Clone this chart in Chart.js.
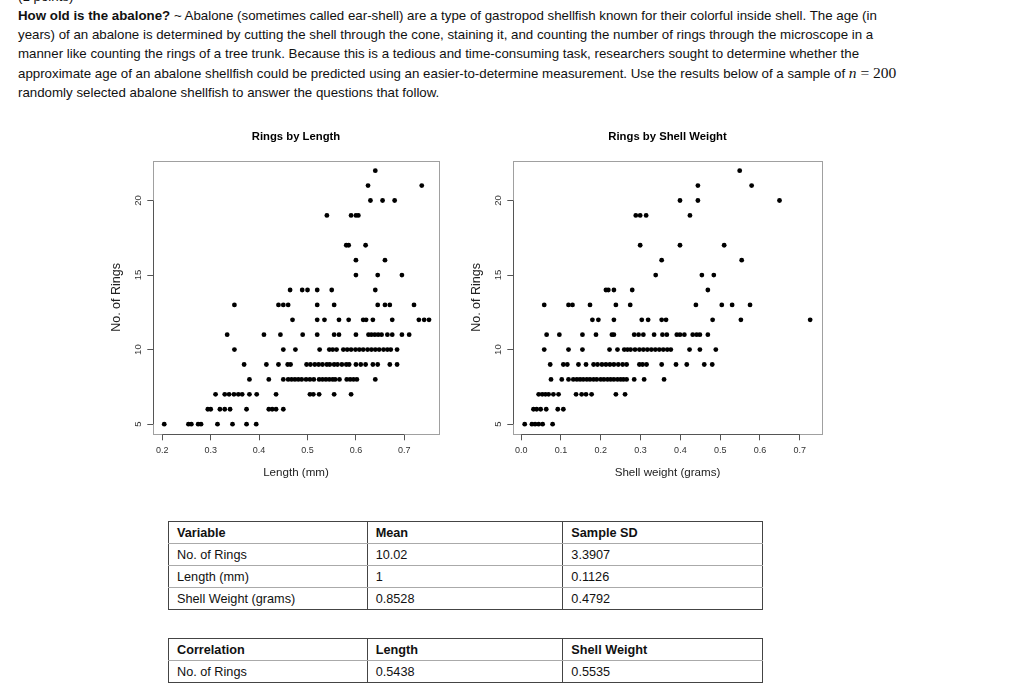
<!DOCTYPE html>
<html>
<head>
<meta charset="utf-8">
<script src="https://cdn.jsdelivr.net/npm/chart.js@4"></script>
<style>
  body { margin: 0; width: 1024px; height: 694px; overflow: hidden; background: #fff; position: relative;
         font-family: "Liberation Sans", Arial, sans-serif; color: #111; }
  #intro { position: absolute; left: 18px; top: -13.5px; font-size: 13.3px; line-height: 19px; white-space: nowrap; }
  #intro .math { font-family: "Liberation Serif", serif; font-size: 15.5px; }
  canvas { position: absolute; }
  table { position: absolute; border-collapse: collapse; font-size: 12.7px; }
  td { border-left: 1px solid #444; border-right: 1px solid #444; border-top: 1px solid #aaa; border-bottom: 1px solid #aaa;
       height: 21px; padding: 0 0 0 8px; vertical-align: middle; }
  tr:first-child td { border-top: 1px solid #444; font-weight: bold; }
  tr:last-child td { border-bottom: 1px solid #444; }
</style>
</head>
<body>

<div id="intro">
  <div>(1 points)</div>
  <div><b>How old is the abalone?</b> ~ Abalone (sometimes called ear-shell) are a type of gastropod shellfish known for their colorful inside shell. The age (in</div>
  <div>years) of an abalone is determined by cutting the shell through the cone, staining it, and counting the number of rings through the microscope in a</div>
  <div>manner like counting the rings of a tree trunk. Because this is a tedious and time-consuming task, researchers sought to determine whether the</div>
  <div>approximate age of an abalone shellfish could be predicted using an easier-to-determine measurement. Use the results below of a sample of <span class="math"><i>n</i> = 200</span></div>
  <div>randomly selected abalone shellfish to answer the questions that follow.</div>
</div>

<canvas id="lengthChart" width="360" height="372" style="left:100px; top:118px;"></canvas>
<canvas id="weightChart" width="380" height="372" style="left:460px; top:118px;"></canvas>

<table style="left:168px; top:521px; width:595px;">
  <colgroup><col style="width:199px"><col style="width:196px"><col style="width:200px"></colgroup>
  <tr><td>Variable</td><td>Mean</td><td>Sample SD</td></tr>
  <tr><td>No. of Rings</td><td>10.02</td><td>3.3907</td></tr>
  <tr><td>Length (mm)</td><td>1</td><td>0.1126</td></tr>
  <tr><td>Shell Weight (grams)</td><td>0.8528</td><td>0.4792</td></tr>
</table>

<table style="left:168px; top:638px; width:595px;">
  <colgroup><col style="width:199px"><col style="width:196px"><col style="width:200px"></colgroup>
  <tr><td>Correlation</td><td>Length</td><td>Shell Weight</td></tr>
  <tr><td>No. of Rings</td><td>0.5438</td><td>0.5535</td></tr>
</table>

<script>
// ===== DATA =====

const ringValues = [5, 6, 7, 8, 9, 10, 11, 12, 13, 14, 15, 16, 17, 18, 19, 20, 21, 22];

// length (mm) of each shell, one list per ring count
const lengthByRing = [
    [0.204, 0.254, 0.26, 0.274, 0.28, 0.314, 0.345, 0.374, 0.394],
    [0.294, 0.30, 0.319, 0.329, 0.34, 0.374, 0.42, 0.427, 0.435, 0.45],
    [0.31, 0.329, 0.338, 0.348, 0.357, 0.365, 0.38, 0.395, 0.435, 0.505, 0.512, 0.524, 0.555, 0.59],
    [0.38, 0.42, 0.45, 0.46, 0.467, 0.474, 0.481, 0.488, 0.497, 0.505, 0.513, 0.524, 0.531, 0.538, 0.545, 0.552, 0.557, 0.566, 0.581, 0.588, 0.595, 0.602, 0.64],
    [0.369, 0.415, 0.44, 0.459, 0.465, 0.498, 0.506, 0.515, 0.523, 0.531, 0.54, 0.546, 0.555, 0.562, 0.571, 0.58, 0.586, 0.6, 0.61, 0.62, 0.635, 0.645, 0.67, 0.685],
    [0.349, 0.45, 0.475, 0.525, 0.545, 0.552, 0.56, 0.574, 0.582, 0.59, 0.599, 0.607, 0.615, 0.624, 0.632, 0.64, 0.648, 0.657, 0.665, 0.672, 0.685],
    [0.334, 0.41, 0.444, 0.49, 0.52, 0.555, 0.565, 0.6, 0.626, 0.632, 0.639, 0.646, 0.653, 0.665, 0.675, 0.695, 0.71],
    [0.469, 0.52, 0.535, 0.565, 0.585, 0.615, 0.621, 0.635, 0.675, 0.73, 0.741, 0.751],
    [0.349, 0.44, 0.45, 0.46, 0.52, 0.555, 0.645, 0.66, 0.67, 0.72],
    [0.464, 0.489, 0.5, 0.52, 0.55, 0.64],
    [0.6, 0.645, 0.695],
    [0.6, 0.66],
    [0.58, 0.585, 0.62],
    [],
    [0.54, 0.59, 0.6, 0.605],
    [0.63, 0.655, 0.68],
    [0.625, 0.736],
    [0.64]
];

// shell weight (grams), one list per ring count
const weightByRing = [
    [0.009, 0.027, 0.035, 0.044, 0.054, 0.079],
    [0.031, 0.039, 0.049, 0.063, 0.092, 0.106],
    [0.044, 0.053, 0.061, 0.069, 0.081, 0.094, 0.138, 0.152, 0.163, 0.177, 0.238, 0.261],
    [0.075, 0.102, 0.119, 0.131, 0.14, 0.148, 0.156, 0.165, 0.173, 0.182, 0.19, 0.2, 0.208, 0.217, 0.225, 0.233, 0.242, 0.25, 0.257, 0.265, 0.284, 0.309, 0.359],
    [0.073, 0.106, 0.116, 0.144, 0.163, 0.182, 0.192, 0.203, 0.213, 0.223, 0.233, 0.244, 0.255, 0.265, 0.297, 0.305, 0.315, 0.353, 0.389, 0.416, 0.46, 0.48],
    [0.058, 0.119, 0.154, 0.222, 0.242, 0.259, 0.267, 0.275, 0.286, 0.297, 0.307, 0.317, 0.327, 0.337, 0.347, 0.357, 0.367, 0.376, 0.423, 0.449, 0.489],
    [0.064, 0.096, 0.154, 0.188, 0.228, 0.233, 0.284, 0.295, 0.307, 0.334, 0.355, 0.366, 0.391, 0.399, 0.41, 0.431, 0.441, 0.449, 0.469],
    [0.179, 0.194, 0.233, 0.303, 0.319, 0.353, 0.364, 0.481, 0.552, 0.726],
    [0.058, 0.119, 0.129, 0.173, 0.238, 0.274, 0.439, 0.504, 0.53, 0.575],
    [0.213, 0.219, 0.233, 0.279, 0.469],
    [0.338, 0.454, 0.484],
    [0.353, 0.554],
    [0.299, 0.399, 0.51],
    [],
    [0.288, 0.299, 0.314, 0.424],
    [0.399, 0.444, 0.649],
    [0.444, 0.579],
    [0.549]
];

const ringTicks = [5, 10, 15, 20];
const lengthTicks = [0.2, 0.3, 0.4, 0.5, 0.6, 0.7];
const weightTicks = [0.0, 0.1, 0.2, 0.3, 0.4, 0.5, 0.6, 0.7];

// ===== HELPERS =====

const FONT = '"Liberation Sans", Arial, sans-serif';

function toPoints(byRing) {
    const pts = [];
    ringValues.forEach((r, i) => {
        byRing[i].forEach(x => pts.push({ x: x, y: r }));
    });
    return pts;
}

// R-style frame: light box round the plot area, darker axis line between first and last tick
const rFrame = {
    id: 'rFrame',
    afterDraw(chart) {
        const { ctx, chartArea: a } = chart;
        const x = chart.scales.x, y = chart.scales.y;
        const l = Math.round(a.left) + 0.5, r = Math.round(a.right) + 0.5;
        const t = Math.round(a.top) + 0.5, b = Math.round(a.bottom) + 0.5;
        ctx.save();
        ctx.lineWidth = 1;
        ctx.strokeStyle = '#a0a0a0';
        ctx.strokeRect(l, t, r - l, b - t);
        ctx.strokeStyle = '#555';
        ctx.beginPath();
        ctx.moveTo(x.getPixelForValue(x.ticks[0].value), b);
        ctx.lineTo(x.getPixelForValue(x.ticks[x.ticks.length - 1].value), b);
        ctx.moveTo(l, y.getPixelForValue(y.ticks[0].value));
        ctx.lineTo(l, y.getPixelForValue(y.ticks[y.ticks.length - 1].value));
        ctx.stroke();
        ctx.restore();
    }
};

function scatterChart(id, points, title, xTitle, xMin, xMax, xTicks, padRight) {
    return new Chart(document.getElementById(id), {
        type: 'scatter',
        data: {
            datasets: [{
                data: points,
                pointRadius: 2.4,
                pointHoverRadius: 2.4,
                pointBackgroundColor: '#000',
                pointBorderWidth: 0
            }]
        },
        options: {
            responsive: false,
            animation: false,
            events: [],
            layout: { padding: { left: 0, right: padRight, top: 0, bottom: 0 } },
            plugins: {
                legend: { display: false },
                tooltip: { enabled: false },
                title: {
                    display: true, text: title, color: '#000', fullSize: false,
                    font: { family: FONT, size: 11.3, weight: 'bold' },
                    padding: { top: 12, bottom: 17 }
                }
            },
            scales: {
                x: {
                    type: 'linear', min: xMin, max: xMax,
                    afterBuildTicks: axis => { axis.ticks = xTicks.map(v => ({ value: v })); },
                    afterFit: axis => { axis.height = 55.7; },
                    border: { display: false },
                    grid: { drawOnChartArea: false, drawTicks: true, tickLength: 6, color: '#555' },
                    ticks: { color: '#333', font: { family: FONT, size: 9 }, padding: 5, maxRotation: 0,
                             callback: v => v.toFixed(1) },
                    title: { display: true, text: xTitle, color: '#222',
                             font: { family: FONT, size: 11.6 }, padding: { top: 0, bottom: 10 } }
                },
                y: {
                    type: 'linear', min: 4.32, max: 22.68,
                    afterBuildTicks: axis => { axis.ticks = ringTicks.map(v => ({ value: v })); },
                    afterFit: axis => { axis.width = 53.3; },
                    border: { display: false },
                    grid: { drawOnChartArea: false, drawTicks: true, tickLength: 6, color: '#555' },
                    ticks: { color: '#333', font: { family: FONT, size: 9.5 }, padding: 4,
                             minRotation: 90, maxRotation: 90, crossAlign: 'center' },
                    title: { display: true, text: 'No. of Rings', color: '#222',
                             font: { family: FONT, size: 12.5 }, padding: { top: 9, bottom: 0 } }
                }
            }
        },
        plugins: [rFrame]
    });
}

// ===== DRAW =====

scatterChart('lengthChart', toPoints(lengthByRing), 'Rings by Length', 'Length (mm)', 0.1814, 0.771, lengthTicks, 21.3);
scatterChart('weightChart', toPoints(weightByRing), 'Rings by Shell Weight', 'Shell weight (grams)', -0.0197, 0.755, weightTicks, 18.3);
</script>
</body>
</html>
